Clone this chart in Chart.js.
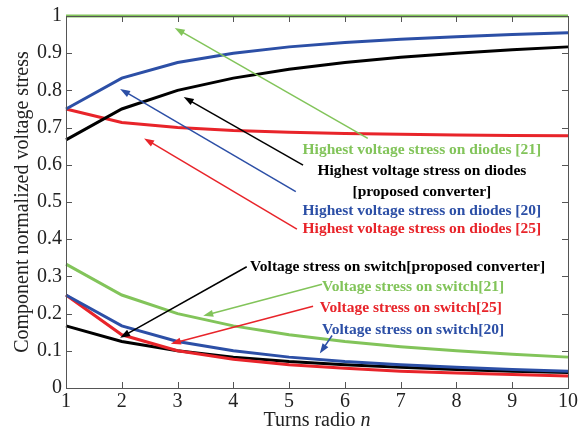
<!DOCTYPE html>
<html><head><meta charset="utf-8">
<style>html,body{margin:0;padding:0;background:#fff;overflow:hidden}#wrap{width:584px;height:435px;position:relative}
#warm{position:absolute;left:0;top:0;width:4px;height:4px}</style>
</head><body>
<canvas id="warm" width="4" height="4"></canvas>
<script>
(function () {
  const w = document.getElementById('warm').getContext('2d');
  w.fillStyle = 'rgba(255,255,255,0)';
  ['20px "Liberation Serif"', 'bold 15.5px "Liberation Serif"', 'italic 20px "Liberation Serif"'].forEach(f => {
    w.font = f; w.fillText('Aa0.9', 0, 3);
  });
})();
</script>
<script src="https://cdn.jsdelivr.net/npm/chart.js@4.4.0/dist/chart.umd.min.js"></script>
<div id="wrap"><canvas id="c"></canvas></div>
<script>
// ---- data ----
const turnsRatio = [1, 2, 3, 4, 5, 6, 7, 8, 9, 10];
const diodeRef21 = [1, 1, 1, 1, 1, 1, 1, 1, 1, 1];
const diodeRef20 = [0.75, 0.833, 0.875, 0.9, 0.917, 0.929, 0.9375, 0.944, 0.95, 0.955];
const diodeProposed = [0.667, 0.75, 0.8, 0.833, 0.857, 0.875, 0.889, 0.9, 0.909, 0.917];
const diodeRef25 = [0.75, 0.714, 0.7, 0.692, 0.6875, 0.684, 0.682, 0.68, 0.679, 0.678];
const switchRef21 = [0.333, 0.25, 0.2, 0.167, 0.143, 0.125, 0.111, 0.1, 0.091, 0.083];
const switchRef20 = [0.25, 0.167, 0.125, 0.1, 0.083, 0.071, 0.0625, 0.056, 0.05, 0.045];
const switchRef25 = [0.25, 0.143, 0.1, 0.077, 0.0625, 0.053, 0.045, 0.04, 0.036, 0.032];
const switchProposed = [0.167, 0.125, 0.1, 0.083, 0.071, 0.0625, 0.056, 0.05, 0.045, 0.042];
const yTickValues = [0, 0.1, 0.2, 0.3, 0.4, 0.5, 0.6, 0.7, 0.8, 0.9, 1];
const xTickValues = [1, 2, 3, 4, 5, 6, 7, 8, 9, 10];
const xTitle = 'Turns radio ';
const xTitleVar = 'n';
const yTitle = 'Component normalized voltage stress';

// labels (text) and arrows, anchored in data coordinates
const labelTexts = [
  'Highest voltage stress on diodes [21]',
  'Highest voltage stress on diodes',
  '[proposed converter]',
  'Highest voltage stress on diodes [20]',
  'Highest voltage stress on diodes [25]',
  'Voltage stress on switch[proposed converter]',
  'Voltage stress on switch[21]',
  'Voltage stress on switch[25]',
  'Voltage stress on switch[20]'
];
const labelN = [7.38, 7.38, 7.38, 7.38, 7.38, 4.30, 5.59, 5.55, 5.59];
const labelV = [0.639, 0.582, 0.528, 0.477, 0.427, 0.326, 0.271, 0.215, 0.156];
const arrowTailN = [6.41, 5.25, 5.12, 5.14, 4.24, 5.59, 5.43, 5.77];
const arrowTailV = [0.671, 0.599, 0.528, 0.427, 0.326, 0.279, 0.220, 0.141];
const arrowHeadN = [2.95, 3.11, 1.97, 2.40, 1.97, 3.46, 2.88, 5.55];
const arrowHeadV = [0.968, 0.782, 0.804, 0.671, 0.135, 0.194, 0.119, 0.093];

const GREEN = '#82c45a', BLUE = '#2c4fa6', BLACK = '#000000', RED = '#e8242a';
const labelColors = [GREEN, BLACK, BLACK, BLUE, RED, BLACK, GREEN, RED, BLUE];
const labelAlign = ['center','center','center','center','center','left','left','left','left'];
const arrowColors = [GREEN, BLACK, BLUE, RED, BLACK, GREEN, RED, BLUE];
const SERIF = '"Liberation Serif"';

function mk(data, color) {
  return { data: data.map((v, i) => ({ x: turnsRatio[i], y: v })), borderColor: color,
    borderWidth: 3, pointRadius: 0, tension: 0, fill: false, clip: 6 };
}

const framePlugin = {
  id: 'frame',
  afterDatasetsDraw(chart) {
    const { ctx, chartArea: a, scales: { x, y } } = chart;
    ctx.save();
    ctx.strokeStyle = '#555';
    ctx.lineWidth = 1;
    ctx.strokeRect(a.left + 0.5, a.top + 0.5, a.right - a.left, a.bottom - a.top);
    const L = 6;
    ctx.beginPath();
    xTickValues.forEach(t => {
      const px = Math.round(x.getPixelForValue(t)) + 0.5;
      ctx.moveTo(px, a.bottom); ctx.lineTo(px, a.bottom - L);
      ctx.moveTo(px, a.top); ctx.lineTo(px, a.top + L);
    });
    yTickValues.forEach(t => {
      const py = Math.round(y.getPixelForValue(t)) + 0.5;
      ctx.moveTo(a.left, py); ctx.lineTo(a.left + L, py);
      ctx.moveTo(a.right, py); ctx.lineTo(a.right - L, py);
    });
    ctx.stroke();
    arrowTailN.forEach((_, i) => {
      const x1 = x.getPixelForValue(arrowTailN[i]), y1 = y.getPixelForValue(arrowTailV[i]);
      const x2 = x.getPixelForValue(arrowHeadN[i]), y2 = y.getPixelForValue(arrowHeadV[i]);
      const ang = Math.atan2(y2 - y1, x2 - x1);
      const hl = 10, hw = 3.5;
      ctx.strokeStyle = arrowColors[i]; ctx.fillStyle = arrowColors[i];
      ctx.lineWidth = 1.5;
      ctx.beginPath();
      ctx.moveTo(x1, y1);
      ctx.lineTo(x2 - Math.cos(ang) * hl * 0.8, y2 - Math.sin(ang) * hl * 0.8);
      ctx.stroke();
      ctx.beginPath();
      ctx.moveTo(x2, y2);
      ctx.lineTo(x2 - Math.cos(ang) * hl - Math.sin(ang) * hw, y2 - Math.sin(ang) * hl + Math.cos(ang) * hw);
      ctx.lineTo(x2 - Math.cos(ang) * hl + Math.sin(ang) * hw, y2 - Math.sin(ang) * hl - Math.cos(ang) * hw);
      ctx.closePath();
      ctx.fill();
    });
    ctx.textBaseline = 'middle';
    labelTexts.forEach((t, i) => {
      ctx.font = 'bold 15.5px ' + SERIF;
      ctx.fillStyle = labelColors[i];
      ctx.textAlign = labelAlign[i];
      ctx.fillText(t, x.getPixelForValue(labelN[i]), y.getPixelForValue(labelV[i]));
    });
    ctx.fillStyle = '#222';
    ctx.font = '20px ' + SERIF;
    const cx = (a.left + a.right) / 2;
    const w1 = ctx.measureText(xTitle).width;
    ctx.font = 'italic 20px ' + SERIF;
    const w2 = ctx.measureText(xTitleVar).width;
    const sx = cx - (w1 + w2) / 2;
    ctx.textAlign = 'left';
    ctx.font = '20px ' + SERIF;
    ctx.fillText(xTitle, sx, 421);
    ctx.font = 'italic 20px ' + SERIF;
    ctx.fillText(xTitleVar, sx + w1, 421);
    ctx.save();
    ctx.translate(23, (a.top + a.bottom) / 2);
    ctx.rotate(-Math.PI / 2);
    ctx.textAlign = 'center';
    ctx.font = '20px ' + SERIF;
    ctx.fillText(yTitle, 0, 0);
    ctx.restore();
    ctx.restore();
  }
};

new Chart(document.getElementById('c'), {
  type: 'line',
  data: {
    datasets: [
      mk(diodeRef21, GREEN), mk(diodeRef20, BLUE), mk(diodeProposed, BLACK), mk(diodeRef25, RED),
      mk(switchRef21, GREEN), mk(switchRef20, BLUE), mk(switchRef25, RED), mk(switchProposed, BLACK)
    ]
  },
  options: {
    responsive: true, maintainAspectRatio: false, animation: false,
    layout: { padding: { left: 0, top: 11, right: 16, bottom: 0 } },
    plugins: { legend: { display: false }, tooltip: { enabled: false } },
    scales: {
      x: {
        type: 'linear', min: 1, max: 10,
        afterFit(s) { s.height = 47; },
        afterBuildTicks(s) { s.ticks = xTickValues.map(v => ({ value: v })); },
        grid: { display: false, drawTicks: false },
        border: { display: false },
        ticks: { color: '#222', padding: 2, maxRotation: 0, autoSkip: false,
          font: { family: 'Liberation Serif', size: 20 } }
      },
      y: {
        min: 0, max: 1,
        afterFit(s) { s.width = 66; },
        afterBuildTicks(s) { s.ticks = yTickValues.map(v => ({ value: v })); },
        grid: { display: false, drawTicks: false },
        border: { display: false },
        ticks: { color: '#222', padding: 4, autoSkip: false,
          font: { family: 'Liberation Serif', size: 20 },
          callback: v => String(Math.round(v * 10) / 10) }
      }
    }
  },
  plugins: [framePlugin]
});
</script>
</body></html>
